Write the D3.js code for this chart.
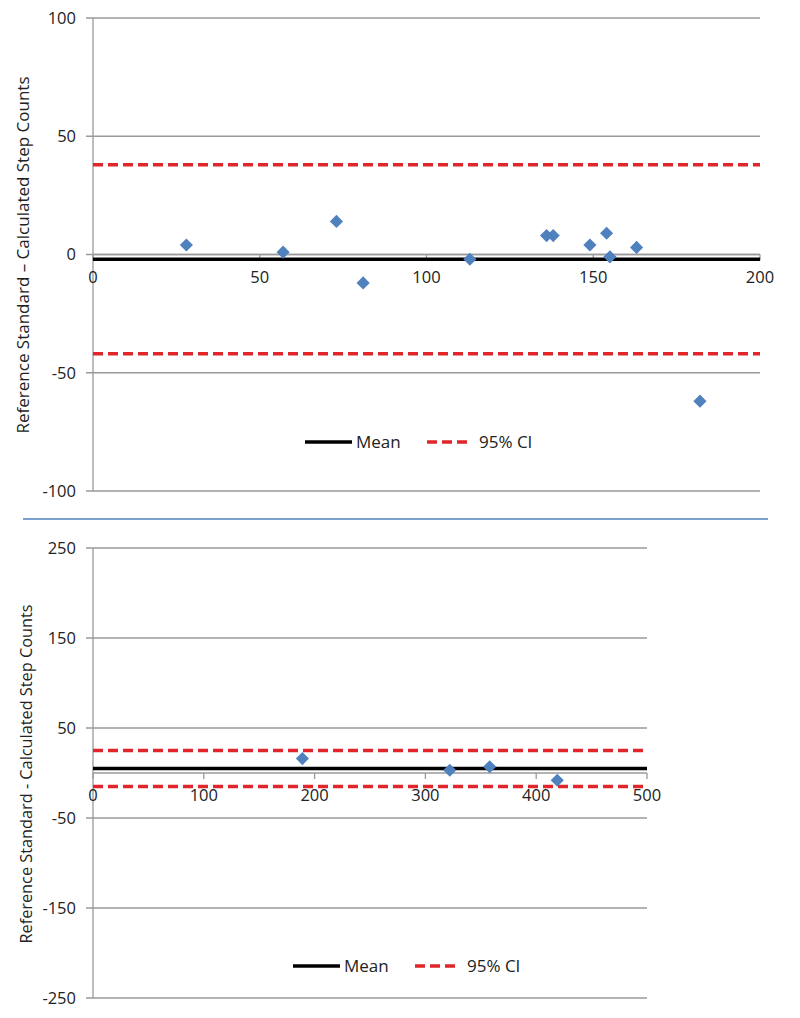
<!DOCTYPE html>
<html><head><meta charset="utf-8">
<script src="https://cdn.jsdelivr.net/npm/d3@7"></script>
<style>body{margin:0;background:#fff;}svg{display:block;font-family:"Open Sans","Liberation Sans",sans-serif;}</style>
</head><body>
<svg id="c" width="800" height="1018"></svg>
<script>
// Top panel data
const topX = [28, 57, 73, 81, 113, 136, 138, 149, 154, 155, 163, 182];
const topY = [4, 1, 14, -12, -2, 8, 8, 4, 9, -1, 3, -62];
const topMean = -2, topUpper = 38, topLower = -42;
const topXTicks = [0, 50, 100, 150, 200];
const topYTicks = [100, 50, 0, -50, -100];
const topLabel = "Reference Standard \u2013 Calculated Step Counts";

// Bottom panel data
const botX = [189, 322, 358, 419];
const botY = [16, 3, 7, -8];
const botMean = 5, botUpper = 25, botLower = -15;
const botXTicks = [0, 100, 200, 300, 400, 500];
const botYTicks = [250, 150, 50, -50, -150, -250];
const botLabel = "Reference Standard - Calculated Step Counts";

const legendItems = ["Mean", "95% CI"];

const svg = d3.select("#c");
const grid = "#9a9a9a";

function panel(o) {
  const g = svg.append("g");
  const x = d3.scaleLinear().domain(o.xDom).range([o.left, o.right]);
  const y = d3.scaleLinear().domain(o.yDom).range([o.bottom, o.top]);
  // gridlines
  g.selectAll(".gl").data(o.yTicks).enter().append("line")
    .attr("x1", o.left - 7).attr("x2", o.right)
    .attr("y1", d => y(d)).attr("y2", d => y(d))
    .attr("stroke", grid).attr("stroke-width", 1.3);
  // y axis line
  g.append("line").attr("x1", o.left).attr("x2", o.left)
    .attr("y1", o.top).attr("y2", o.bottom).attr("stroke", grid).attr("stroke-width", 1.3);
  // y tick labels
  g.selectAll(".yl").data(o.yTicks).enter().append("text")
    .attr("x", o.left - 17).attr("y", d => y(d)).attr("dy", "0.35em")
    .attr("text-anchor", "end").attr("font-size", 16.5).attr("fill", "#222")
    .text(d => d);
  // x axis at 0
  const y0 = y(0);
  g.append("line").attr("x1", o.left).attr("x2", o.right)
    .attr("y1", y0).attr("y2", y0).attr("stroke", grid).attr("stroke-width", 1.3);
  g.selectAll(".xt").data(o.xTicks).enter().append("line")
    .attr("x1", d => x(d)).attr("x2", d => x(d))
    .attr("y1", y0).attr("y2", y0 + 6).attr("stroke", grid).attr("stroke-width", 1.3);
  g.selectAll(".xl").data(o.xTicks).enter().append("text")
    .attr("x", d => x(d)).attr("y", y0 + 28)
    .attr("text-anchor", "middle").attr("font-size", 16.5).attr("fill", "#222")
    .text(d => d);
  // mean & CI
  g.append("line").attr("x1", o.left).attr("x2", o.right)
    .attr("y1", y(o.mean)).attr("y2", y(o.mean)).attr("stroke", "#000").attr("stroke-width", 3.5);
  [o.upper, o.lower].forEach(v => {
    g.append("line").attr("x1", o.left).attr("x2", o.right)
      .attr("y1", y(v)).attr("y2", y(v)).attr("stroke", "#e0262a")
      .attr("stroke-width", 3.5).attr("stroke-dasharray", "10,5");
  });
  // points
  const pts = o.xs.map((d, i) => [d, o.ys[i]]);
  g.selectAll(".pt").data(pts).enter().append("path")
    .attr("d", d3.symbol().type(d3.symbolDiamond2).size(110))
    .attr("transform", d => `translate(${x(d[0])},${y(d[1])})`)
    .attr("fill", "#4f81bd");
  // y label
  g.append("text").attr("transform", `translate(${o.labelX},${o.labelY}) rotate(-90)`)
    .attr("text-anchor", "middle").attr("font-size", o.labelSize).attr("fill", "#222")
    .text(o.label);
  // legend
  const ly = o.legY;
  g.append("line").attr("x1", o.legX).attr("x2", o.legX + 47).attr("y1", ly).attr("y2", ly)
    .attr("stroke", "#000").attr("stroke-width", 3.5);
  g.append("text").attr("x", o.legX + 51).attr("y", ly).attr("dy", "0.35em")
    .attr("font-size", 17).attr("fill", "#222").text(legendItems[0]);
  g.append("line").attr("x1", o.legX + 122).attr("x2", o.legX + 163).attr("y1", ly).attr("y2", ly)
    .attr("stroke", "#e0262a").attr("stroke-width", 3.5).attr("stroke-dasharray", "10,5");
  g.append("text").attr("x", o.legX + 174).attr("y", ly).attr("dy", "0.35em")
    .attr("font-size", 17).attr("fill", "#222").text(legendItems[1]);
}

panel({xDom: [0, 200], yDom: [-100, 100], left: 93, right: 760, top: 18, bottom: 491,
  xTicks: topXTicks, yTicks: topYTicks, xs: topX, ys: topY,
  mean: topMean, upper: topUpper, lower: topLower,
  label: topLabel, labelX: 29, labelY: 255, labelSize: 17, legX: 305, legY: 442});

panel({xDom: [0, 500], yDom: [-250, 250], left: 93, right: 647, top: 548, bottom: 998,
  xTicks: botXTicks, yTicks: botYTicks, xs: botX, ys: botY,
  mean: botMean, upper: botUpper, lower: botLower,
  label: botLabel, labelX: 32, labelY: 774, labelSize: 16.3, legX: 293, legY: 966});

// divider
svg.append("line").attr("x1", 23).attr("x2", 768).attr("y1", 519).attr("y2", 519)
  .attr("stroke", "#4f81bd").attr("stroke-width", 1.5);
</script>
</body></html>
